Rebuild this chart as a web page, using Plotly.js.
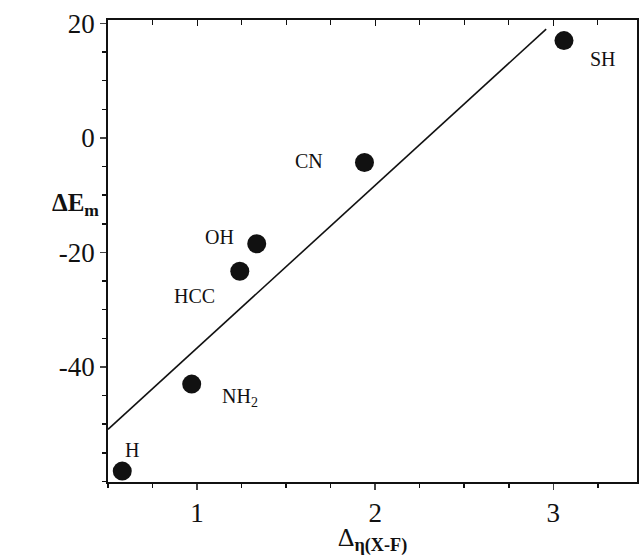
<!DOCTYPE html>
<html><head><meta charset="utf-8">
<script src="https://cdn.plot.ly/plotly-3.0.1.min.js"></script>
<style>html,body{margin:0;padding:0;background:#fff}#chart{width:639px;height:556px}</style>
</head><body><div id="chart"></div>
<script>
// Data
const groups = ['H', 'NH<sub>2</sub>', 'HCC', 'OH', 'CN', 'SH'];
const deltaEta = [0.58, 0.97, 1.24, 1.335, 1.94, 3.06];
const deltaEm = [-58.2, -43.0, -23.3, -18.5, -4.3, 17.0];
const fitX = [0.5, 2.96];
const fitY = [-50.9, 19.0];
const yTickVals = [-40, -20, 0, 20];
const yTickText = ['-40', '-20', '0', '20'];
const xTickVals = [1, 2, 3];
const xTickText = ['1', '2', '3'];

// label offsets (px) relative to each point
const labelShift = [[10, 21], [48, -13], [-45, -25], [-37, 7], [-55, 2], [39, -18]];

const serif = 'Liberation Serif, Times New Roman, serif';

const traces = [
  {x: fitX, y: fitY, mode: 'lines', line: {color: '#111', width: 1.6}, hoverinfo: 'skip', showlegend: false},
  {x: deltaEta, y: deltaEm, mode: 'markers', marker: {color: '#111', size: 19}, showlegend: false},
  {x: fitX, y: fitY, xaxis: 'x2', mode: 'lines', line: {width: 0}, opacity: 0, hoverinfo: 'skip', showlegend: false}
];

const annotations = groups.map((g, i) => ({
  x: deltaEta[i], y: deltaEm[i], text: g, showarrow: false,
  xshift: labelShift[i][0], yshift: labelShift[i][1],
  font: {family: serif, size: 20, color: '#111'}
}));
annotations.push({
  xref: 'paper', yref: 'paper', x: -0.11, y: 0.6, showarrow: false,
  text: '<b>ΔE<sub>m</sub></b>', font: {family: serif, size: 25, color: '#111'}
});

const layout = {
  width: 639, height: 556,
  margin: {l: 108, r: 2, t: 20, b: 74},
  paper_bgcolor: '#fff', plot_bgcolor: '#fff',
  font: {family: serif, color: '#111'},
  xaxis: {
    range: [0.5, 3.47], tickvals: xTickVals, ticktext: xTickText, ticks: 'outside', ticklen: 6, tickwidth: 1.5,
    showline: true, linecolor: '#111', linewidth: 1.8, mirror: true,
    showgrid: false, zeroline: false,
    tickfont: {family: serif, size: 27, color: '#111'},
    minor: {dtick: 0.25, tick0: 0, ticks: 'outside', ticklen: 4, tickcolor: '#111', showgrid: false},
    title: {text: 'Δ<sub><b>η(X-F)</b></sub>', font: {family: serif, size: 26, color: '#111'}, standoff: 4}
  },
  xaxis2: {
    overlaying: 'x', matches: 'x', side: 'top', anchor: 'y', showticklabels: false,
    tickvals: xTickVals, ticks: 'inside', ticklen: 6, tickcolor: '#111',
    minor: {dtick: 0.25, tick0: 0, ticks: 'inside', ticklen: 5, tickcolor: '#111', showgrid: false},
    showgrid: false, zeroline: false, showline: false
  },
  yaxis: {
    range: [-60.1, 20.6], tickvals: yTickVals, ticktext: yTickText, ticks: 'outside', ticklen: 6, tickwidth: 1.5,
    showline: true, linecolor: '#111', linewidth: 1.8, mirror: true,
    showgrid: false, zeroline: false,
    tickfont: {family: serif, size: 27, color: '#111'},
    minor: {dtick: 5, tick0: 0, ticks: 'outside', ticklen: 4, tickcolor: '#111', showgrid: false}
  },
  annotations: annotations
};

Plotly.newPlot('chart', traces, layout, {displayModeBar: false, staticPlot: true});
</script></body></html>
